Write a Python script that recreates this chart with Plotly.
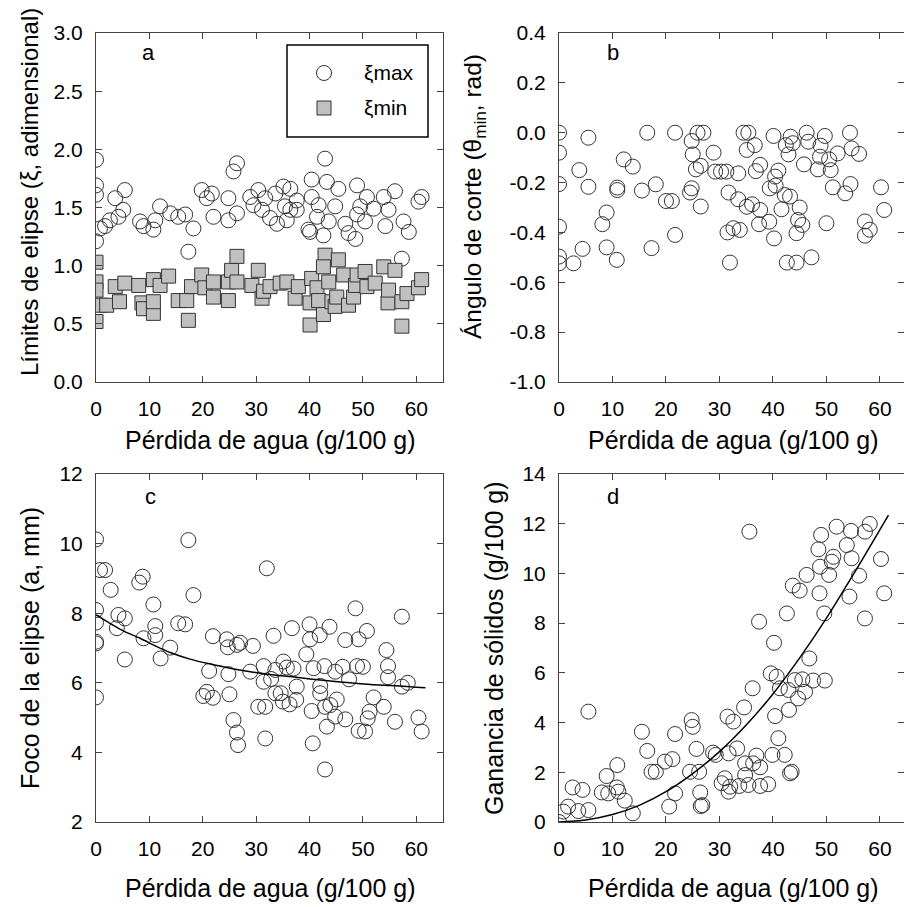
import plotly.graph_objects as go

# ---------------- data ----------------
# Panel a: ellipse limits (xi max / xi min) vs water loss
a_max_x = [0, 0, 0, 0, 0.75, 1.7, 2.6, 3.6, 4.2, 5.1, 5.4, 8.25, 8.9, 10.75, 11.1, 12, 13.9, 15.4,
           16.7, 17.3, 18.25, 19.8, 20.75, 21.7, 22, 24.8, 24.8, 25.75, 26.4, 26.4, 28.9, 29.5, 30.4,
           31.1, 31.7, 32.6, 33.6, 33.9, 35.1, 35.4, 35.75, 36.4, 36.4, 37.6, 37.6, 39.8, 40.1, 40.4,
           40.4, 41.4, 41.7, 42.6, 42.9, 43.25, 43.6, 44.8, 45.4, 46.7, 47.3, 48.6, 48.9, 48.9, 49.5,
           50.4, 50.75, 52, 53.9, 54.2, 54.8, 56, 57.6, 57.3, 58.6, 60.4, 61]
a_max_y = [1.91, 1.69, 1.61, 1.21, 1.32, 1.34, 1.39, 1.58, 1.42, 1.48, 1.65, 1.38, 1.34, 1.31, 1.39,
           1.51, 1.45, 1.42, 1.44, 1.12, 1.32, 1.65, 1.58, 1.62, 1.42, 1.58, 1.39, 1.81, 1.88, 1.45,
           1.59, 1.52, 1.65, 1.48, 1.58, 1.41, 1.62, 1.36, 1.68, 1.51, 1.39, 1.66, 1.48, 1.48, 1.56,
           1.31, 1.29, 1.74, 1.59, 1.42, 1.52, 1.26, 1.92, 1.72, 1.38, 1.51, 1.66, 1.36, 1.28, 1.23,
           1.69, 1.44, 1.51, 1.38, 1.59, 1.49, 1.59, 1.34, 1.48, 1.64, 1.38, 1.06, 1.29, 1.55, 1.59]
a_min_x = [0, 0, 0, 0, 0.75, 2, 3.6, 4.4, 5.4, 8, 8.6, 8.9, 10.75, 10.75, 10.75, 12, 13.6, 15.4, 17,
           17.3, 17.9, 19.8, 20.4, 22, 22, 24.8, 24.8, 25.4, 26.4, 26.4, 29.2, 30.4, 31.1, 31.4, 32.6,
           34.5, 35.75, 37.3, 37.9, 40.1, 40.1, 40.4, 41.4, 41.7, 42.6, 42.9, 42.6, 43.6, 44.2, 44.8,
           45.1, 45.4, 46.4, 47.3, 48.25, 48.6, 48.9, 50.4, 50.75, 52.3, 53.9, 54.7, 54.8, 56, 57.3,
           57.3, 58.25, 60.4, 61]
a_min_y = [1.03, 0.86, 0.79, 0.52, 0.66, 0.66, 0.82, 0.69, 0.85, 0.83, 0.68, 0.63, 0.59, 0.69, 0.88,
           0.83, 0.91, 0.70, 0.70, 0.53, 0.82, 0.92, 0.81, 0.86, 0.73, 0.70, 0.86, 0.96, 1.08, 0.86,
           0.83, 0.96, 0.72, 0.78, 0.82, 0.85, 0.86, 0.72, 0.82, 0.49, 0.68, 0.89, 0.81, 0.70, 0.58,
           1.09, 0.99, 0.86, 0.69, 0.65, 0.73, 1.05, 0.92, 0.66, 0.73, 0.83, 0.92, 0.95, 0.82, 0.85,
           0.99, 0.68, 0.79, 0.96, 0.48, 0.69, 0.76, 0.81, 0.88]

# Panel b: shear angle (theta min) vs water loss
b_x = [0, 0, 0, 0, 0, 0, 2.7, 3.8, 4.4, 5.5, 5.5, 8.1, 8.9, 8.9, 10.8, 10.9, 10.9, 12.1, 13.8, 15.5,
       16.5, 17.3, 18.1, 20, 21.1, 21.7, 21.7, 24.5, 24.8, 24.8, 25, 25.6, 26.5, 25.9, 27, 26.5, 28.9,
       29.2, 30.3, 31.3, 31.7, 31.5, 31.96, 32.6, 33.5, 33.5, 33.8, 34.5, 35.4, 35.1, 35.1, 36.1,
       36.6, 36.8, 37.6, 37.6, 37.4, 39.3, 39.4, 40.1, 40.4, 40.2, 40.5, 41, 41.6, 42.2, 42.4, 42.9,
       43.2, 43.3, 43.7, 42.6, 44.4, 44.4, 45, 44.7, 45.5, 45.8, 46.3, 46.6, 47.2, 48.4, 48.9, 48.8,
       49.7, 50, 50.5, 50.8, 51.2, 52.1, 53.5, 54.4, 54.5, 54.7, 56.1, 57.2, 57.2, 58.1, 60.2, 60.8]
b_y = [0.0, -0.08, -0.206, -0.377, -0.497, -0.524, -0.524, -0.15, -0.466, -0.02, -0.217, -0.367,
       -0.32, -0.46, -0.51, -0.22, -0.23, -0.107, -0.136, -0.232, 0.0, -0.463, -0.207, -0.274, -0.274,
       0.0, -0.41, -0.24, -0.223, -0.033, -0.087, -0.147, -0.133, 0.0, 0.0, -0.296, -0.08, -0.156,
       -0.156, -0.156, -0.24, -0.40, -0.521, -0.383, -0.163, -0.267, -0.39, 0.0, 0.0, -0.069, -0.297,
       -0.287, -0.05, -0.154, -0.129, -0.31, -0.367, -0.357, -0.223, -0.013, -0.176, -0.424, -0.212,
       -0.152, -0.307, -0.25, -0.05, -0.087, -0.256, -0.016, -0.042, -0.521, -0.521, -0.403, -0.30,
       -0.35, -0.37, -0.127, 0.0, -0.036, -0.5, -0.147, -0.052, -0.096, -0.013, -0.363, -0.107, -0.15,
       -0.219, -0.083, -0.243, 0.0, -0.206, -0.063, -0.085, -0.356, -0.413, -0.389, -0.219, -0.31]

# Panel c: ellipse focus (a, mm) vs water loss
c_x = [0, 0, 0, 0, 0, 0, 0.75, 1.7, 2.75, 4.2, 3.9, 5.4, 5.4, 8.1, 8.75, 8.9, 10.75, 11.1, 11.1, 12.1,
       13.9, 15.4, 16.7, 17.3, 18.25, 20.1, 20.75, 21.2, 21.9, 21.9, 24.5, 24.7, 24.8, 25, 25.75, 26.4,
       26.6, 26.4, 27, 29.4, 28.9, 30.4, 31.4, 31.4, 31.7, 31.7, 32, 32.8, 33.25, 33.6, 33.6, 34.6, 35,
       35.1, 35.75, 36.25, 36.7, 37, 37.6, 37.5, 39.4, 40, 40.1, 40.4, 40.6, 40.75, 41.9, 42, 42, 42.8,
       42.9, 42.9, 43.25, 43.75, 43.9, 44.8, 45.1, 44.8, 46.2, 46.7, 46.7, 47.4, 48.6, 48.9, 49.2,
       49.2, 50, 50.4, 50.75, 50.9, 51.25, 52, 53.9, 54.4, 54.7, 54.7, 56, 57.3, 57.3, 58.4, 60.4, 61]
c_y = [10.12, 8.09, 7.73, 7.18, 7.13, 5.58, 9.24, 9.24, 8.67, 7.95, 7.57, 7.85, 6.67, 8.88, 9.05, 7.28,
       8.25, 7.63, 7.37, 6.70, 7.01, 7.71, 7.68, 10.10, 8.52, 5.62, 5.74, 6.34, 5.57, 7.34, 7.25, 7.02,
       6.25, 5.67, 4.93, 4.57, 4.21, 7.09, 7.15, 7.06, 6.32, 5.31, 6.48, 6.03, 5.31, 4.40, 9.29, 6.11,
       7.35, 6.37, 5.70, 5.70, 5.46, 6.61, 6.44, 5.38, 7.57, 6.41, 5.89, 5.51, 6.82, 7.68, 7.25, 5.19,
       4.26, 6.42, 7.37, 5.91, 5.70, 6.48, 5.31, 3.51, 4.74, 7.61, 5.36, 6.32, 5.52, 5.03, 6.46, 7.23,
       4.95, 6.10, 8.14, 6.48, 7.25, 4.62, 6.46, 4.60, 7.49, 4.98, 5.17, 5.58, 5.31, 6.94, 6.48, 6.16,
       4.88, 7.90, 5.89, 6.00, 5.00, 4.60]
c_fit_x = [0, 2.6, 5.1, 8.25, 11.4, 13.9, 17.6, 21.4, 25.1, 28.9, 32.6, 36.4, 40.1, 43.9, 47.6, 51.4,
           55.1, 58.9, 61.7]
c_fit_y = [7.95, 7.71, 7.49, 7.28, 7.04, 6.87, 6.68, 6.54, 6.42, 6.32, 6.24, 6.18, 6.11, 6.05, 6.00,
           5.95, 5.92, 5.89, 5.86]

# Panel d: solids gain vs water loss
d_x = [0, 0.8, 1.7, 2.55, 3.6, 4.4, 5.5, 5.5, 8, 8.9, 9.2, 10.8, 10.9, 11.1, 12.3, 13.8, 15.5, 16.5,
       17.3, 18.1, 19.8, 21.2, 20.6, 21.7, 21.7, 24.5, 24.8, 25, 25.7, 26.2, 26.4, 26.5, 26.8, 28.8,
       29.3, 30.4, 31, 31.5, 31.7, 31.7, 32, 32.6, 33.3, 33.7, 34.6, 34.8, 34.8, 35.4, 35.6, 36.2,
       36.3, 36.9, 37.4, 37.6, 37.6, 39.1, 39.6, 39.9, 40.4, 40.2, 40.7, 41, 41.3, 42.2, 42.6, 42.9,
       43, 43.2, 43.5, 43.7, 45, 44.1, 44.7, 45.5, 46, 46.3, 46.8, 47.5, 48.5, 48.7, 49, 48.8, 49.6,
       49.7, 50.5, 51, 51.3, 51.9, 53.8, 54.3, 54.6, 54.7, 56.1, 57.2, 57.2, 58.1, 60.2, 60.8]
d_y = [0.0, 0.42, 0.62, 1.39, 0.44, 1.29, 0.48, 4.44, 1.19, 1.85, 1.15, 1.39, 2.29, 1.22, 0.86, 0.35,
       3.63, 2.86, 2.02, 2.02, 2.43, 2.53, 0.62, 3.54, 1.15, 2.02, 4.10, 3.83, 2.94, 2.02, 1.19, 0.64,
       0.68, 2.79, 2.70, 1.56, 1.76, 4.24, 2.76, 1.22, 1.42, 4.04, 2.96, 1.45, 4.61, 2.36, 1.89, 1.49,
       11.68, 5.38, 2.36, 2.67, 8.06, 2.20, 1.45, 1.52, 5.98, 2.70, 4.26, 7.21, 5.85, 3.37, 5.38, 2.70,
       8.39, 5.31, 4.51, 1.96, 2.02, 9.51, 9.31, 5.71, 4.97, 5.74, 5.24, 9.94, 6.58, 5.69, 10.97, 9.20,
       11.55, 10.27, 8.39, 5.69, 9.94, 10.47, 10.67, 11.88, 11.14, 9.07, 11.71, 10.61, 9.91, 11.68,
       8.19, 11.99, 10.58, 9.20]
d_fit_x = [0, 5, 10, 15, 20, 25, 30, 35, 40, 45, 50, 55, 61.6]
d_fit_y = [0.0, 0.08, 0.30, 0.67, 1.22, 1.95, 2.83, 3.90, 5.15, 6.60, 8.20, 9.95, 12.35]

x_ticks = [0, 10, 20, 30, 40, 50, 60]
a_yticks = [0, 0.5, 1.0, 1.5, 2.0, 2.5, 3.0]
a_ylabels = ["0.0", "0.5", "1.0", "1.5", "2.0", "2.5", "3.0"]
b_yticks = [-1.0, -0.8, -0.6, -0.4, -0.2, 0.0, 0.2, 0.4]
b_ylabels = ["-1.0", "-0.8", "-0.6", "-0.4", "-0.2", "0.0", "0.2", "0.4"]
c_yticks = [2, 4, 6, 8, 10, 12]
d_yticks = [0, 2, 4, 6, 8, 10, 12, 14]

x_title = "Pérdida de agua (g/100 g)"
y_titles = ["Límites de elipse (ξ, adimensional)", "Ángulo de corte (θ<sub>min</sub>, rad)",
            "Foco de la elipse (a, mm)", "Ganancia de sólidos (g/100 g)"]
panel_letters = ["a", "b", "c", "d"]
legend_names = ["ξmax", "ξmin"]

# ---------------- figure ----------------
W, H = 904, 907
FONT = "Liberation Sans, Arial, sans-serif"
AXC = "#444444"
EDGE = "#333333"

def px(x):
    return x / W

def py(y):
    return 1 - y / H

fig = go.Figure()

circle = dict(symbol="circle-open", size=15, color=EDGE, line=dict(width=1, color=EDGE))
square = dict(symbol="square", size=14, color="#c0c0c0", line=dict(width=1, color=EDGE))

fig.add_trace(go.Scatter(x=a_max_x, y=a_max_y, mode="markers", marker=circle, name=legend_names[0],
                         xaxis="x", yaxis="y", showlegend=False))
fig.add_trace(go.Scatter(x=a_min_x, y=a_min_y, mode="markers", marker=square, name=legend_names[1],
                         xaxis="x", yaxis="y", showlegend=False))
fig.add_trace(go.Scatter(x=b_x, y=b_y, mode="markers", marker=circle, xaxis="x2", yaxis="y2",
                         showlegend=False))
fig.add_trace(go.Scatter(x=c_x, y=c_y, mode="markers", marker=circle, xaxis="x3", yaxis="y3",
                         showlegend=False))
fig.add_trace(go.Scatter(x=c_fit_x, y=c_fit_y, mode="lines",
                         line=dict(color="black", width=1.5, shape="spline", smoothing=0.8),
                         xaxis="x3", yaxis="y3", showlegend=False))
fig.add_trace(go.Scatter(x=d_x, y=d_y, mode="markers", marker=circle, xaxis="x4", yaxis="y4",
                         showlegend=False))
fig.add_trace(go.Scatter(x=d_fit_x, y=d_fit_y, mode="lines",
                         line=dict(color="black", width=1.5, shape="spline", smoothing=0.8),
                         xaxis="x4", yaxis="y4", showlegend=False))

left_dom = [px(96), px(443)]
right_dom = [px(559), 1.0]
top_dom = [py(382), py(33)]
bot_dom = [py(822), py(474)]

tickfont = dict(family=FONT, size=21, color="black")
common = dict(showline=True, linecolor=AXC, linewidth=1, mirror="ticks", ticks="inside", ticklen=6,
              tickcolor=AXC, tickwidth=1, showgrid=False, zeroline=False, tickfont=tickfont,
              automargin=False)

def xax(dom, anchor, rng):
    return dict(domain=dom, anchor=anchor, range=rng, tickvals=x_ticks, ticklabelstandoff=8, **common)

def yax(dom, anchor, rng, tv, tt=None):
    d = dict(domain=dom, anchor=anchor, range=rng, tickvals=tv, ticklabelstandoff=8, **common)
    if tt is not None:
        d["ticktext"] = tt
    return d

fig.update_layout(
    width=W, height=H, margin=dict(l=0, r=0, t=0, b=0),
    paper_bgcolor="white", plot_bgcolor="white",
    font=dict(family=FONT, color="black"),
    xaxis=xax(left_dom, "y", [0, 65]),
    yaxis=yax(top_dom, "x", [0, 3], a_yticks, a_ylabels),
    xaxis2=xax(right_dom, "y2", [0, 64.5]),
    yaxis2=yax(top_dom, "x2", [-1, 0.4], b_yticks, b_ylabels),
    xaxis3=xax(left_dom, "y3", [0, 65]),
    yaxis3=yax(bot_dom, "x3", [2, 12], c_yticks),
    xaxis4=xax(right_dom, "y4", [0, 64.5]),
    yaxis4=yax(bot_dom, "x4", [0, 14], d_yticks),
    showlegend=False,
)

ann = []
# x titles
for cx, cy in [(270, 440), (733, 440), (270, 888), (733, 888)]:
    ann.append(dict(text=x_title, x=px(cx), y=py(cy), xref="paper", yref="paper", showarrow=False,
                    xanchor="center", yanchor="middle", font=dict(family=FONT, size=25, color="black")))
# y titles
for (cx, cy), t, fs in zip([(30, 192), (475, 197), (30, 648), (494, 648)], y_titles, [24, 24.5, 25, 25]):
    ann.append(dict(text=t, x=px(cx), y=py(cy), xref="paper", yref="paper", showarrow=False,
                    xanchor="center", yanchor="middle", textangle=-90,
                    font=dict(family=FONT, size=fs, color="black")))
# panel letters
for (cx, cy), t in zip([(148, 52), (613, 52), (150, 496), (613, 496)], panel_letters):
    ann.append(dict(text=t, x=px(cx), y=py(cy), xref="paper", yref="paper", showarrow=False,
                    xanchor="center", yanchor="middle", font=dict(family=FONT, size=22, color="black")))
# legend texts
for cy, t in zip([73, 108], legend_names):
    ann.append(dict(text=t, x=px(362), y=py(cy), xref="paper", yref="paper", showarrow=False,
                    xanchor="left", yanchor="middle", font=dict(family=FONT, size=21, color="black")))
fig.update_layout(annotations=ann)

shapes = [
    dict(type="rect", xref="paper", yref="paper", x0=px(287), x1=px(428), y0=py(137), y1=py(45),
         line=dict(color="black", width=1.5), fillcolor="rgba(0,0,0,0)"),
    dict(type="circle", xref="paper", yref="paper", xsizemode="pixel", ysizemode="pixel",
         xanchor=px(324), yanchor=py(73), x0=-7.5, x1=7.5, y0=-7.5, y1=7.5,
         line=dict(color=EDGE, width=1), fillcolor="white"),
    dict(type="rect", xref="paper", yref="paper", xsizemode="pixel", ysizemode="pixel",
         xanchor=px(324), yanchor=py(108), x0=-7, x1=7, y0=-7, y1=7,
         line=dict(color=EDGE, width=1), fillcolor="#c0c0c0"),
]
fig.update_layout(shapes=shapes)

fig.write_html("out.html")
